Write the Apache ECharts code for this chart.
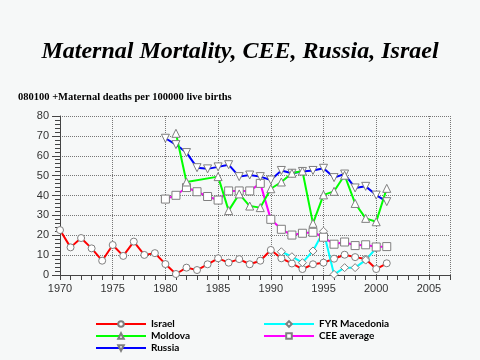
<!DOCTYPE html>
<html>
<head>
<meta charset="utf-8">
<script src="https://cdn.jsdelivr.net/npm/echarts@6/dist/echarts.min.js"></script>
<style>
html,body{margin:0;padding:0;background:#f6f8f8;}
#chart{width:480px;height:360px;}
</style>
</head>
<body>
<div id="chart"></div>
<script>
var years = [1970,1971,1972,1973,1974,1975,1976,1977,1978,1979,1980,1981,1982,1983,1984,1985,1986,1987,1988,1989,1990,1991,1992,1993,1994,1995,1996,1997,1998,1999,2000,2001];
var israel = [22.6,13.9,18.6,13.4,7.2,15.1,9.6,16.8,10.1,11.0,5.5,0.5,3.7,2.5,5.4,8.4,6.2,8.0,5.4,7.2,12.6,8.4,5.8,3.0,5.4,6.2,8.2,10.2,9.0,8.0,3.0,5.9];
var macedonia = [null,null,null,null,null,null,null,null,null,null,null,null,null,null,null,null,null,null,null,null,null,11.7,9.2,6.2,12.1,22.0,0.3,3.7,3.7,7.5,13.6,null];
var moldova = [null,null,null,null,null,null,null,null,null,null,null,71.3,46.8,null,null,49.5,32.4,40.8,34.7,33.9,43.4,46.8,51.2,52.3,26.0,40.3,42.1,50.2,36.0,28.5,26.8,43.6];
var russia = [null,null,null,null,null,null,null,null,null,null,68.8,65.6,61.6,54.0,53.4,54.4,55.5,49.5,50.3,49.5,47.8,52.6,51.2,52.1,52.6,53.7,49.0,50.8,43.8,44.6,40.2,36.9];
var ceeAvg = [null,null,null,null,null,null,null,null,null,null,38.2,40.1,44.0,41.9,39.5,37.7,42.3,42.3,42.3,46.1,28.0,23.0,20.1,21.0,21.5,19.0,15.5,16.6,14.8,15.2,14.1,14.3];
var xTicks = {min:1970, max:2007, step:5};
var yTicks = {min:0, max:80, step:10};
var titleText = 'Maternal Mortality, CEE, Russia, Israel';
var subText = '080100 +Maternal deaths per 100000 live births';

function pairs(vals){
  var out = [];
  for (var i=0;i<years.length;i++){ if (vals[i]!==null) out.push([years[i], vals[i]]); }
  return out;
}
function mk(name, vals, color, symbol, size, rot){
  return {
    name: name, type:'line', data: pairs(vals),
    symbol: symbol, symbolSize: size, symbolRotate: rot||0,
    lineStyle:{color:color, width:2},
    itemStyle:{color:'#ffffff', borderColor:'#7f7f7f', borderWidth:1},
    color: color,
    animation:false
  };
}
var chart = echarts.init(document.getElementById('chart'), null, {renderer:'canvas'});
var legendText = {fontFamily:'Lato', fontWeight:'bold', fontSize:10, color:'#000'};
chart.setOption({
  backgroundColor:'#f6f8f8',
  animation:false,
  title:[
    {text:titleText, left:'center', top:40, padding:0, textStyle:{fontFamily:'Liberation Serif', fontStyle:'italic', fontWeight:'bold', fontSize:24, color:'#000'}},
    {text:subText, left:18, top:92, padding:0, textStyle:{fontFamily:'Liberation Serif', fontWeight:'bold', fontSize:10.5, color:'#000'}}
  ],
  legend:[
    {data:['Israel','Moldova','Russia'], orient:'vertical', left:95, top:319, height:40, padding:0, itemWidth:50, itemHeight:7, itemGap:2, textStyle:legendText},
    {data:['FYR Macedonia','CEE average'], orient:'vertical', left:263, top:319, height:40, padding:0, itemWidth:50, itemHeight:7, itemGap:2, textStyle:legendText}
  ],
  grid:{left:60, right:30, top:116, bottom:85},
  xAxis:{
    type:'value', min:xTicks.min, max:xTicks.max, interval:xTicks.step,
    axisLine:{lineStyle:{color:'#444'}},
    axisTick:{show:true, length:5, lineStyle:{color:'#444'}},
    minorTick:{show:true, splitNumber:5, length:5, lineStyle:{color:'#444'}},
    axisLabel:{color:'#333', fontFamily:'Liberation Sans', fontSize:11, margin:8, formatter:function(v){return String(v);}},
    splitLine:{show:true, lineStyle:{color:'#777', type:'dotted', width:1}}
  },
  yAxis:{
    type:'value', min:yTicks.min, max:yTicks.max, interval:yTicks.step,
    axisLine:{show:true, lineStyle:{color:'#444'}},
    axisTick:{show:true, length:8, lineStyle:{color:'#444'}},
    minorTick:{show:true, splitNumber:5, length:5, lineStyle:{color:'#444'}},
    axisLabel:{color:'#333', fontFamily:'Liberation Sans', fontSize:11, margin:11},
    splitLine:{show:true, lineStyle:{color:'#777', type:'dotted', width:1}}
  },
  series:[
    mk('Israel', israel, '#ff0000', 'circle', 7),
    mk('FYR Macedonia', macedonia, '#00ffff', 'diamond', 8),
    mk('CEE average', ceeAvg, '#ff00ff', 'rect', 8),
    mk('Russia', russia, '#0000ff', 'triangle', 8, 180),
    mk('Moldova', moldova, '#00ff00', 'triangle', 8)
  ]
});
</script>
</body>
</html>
